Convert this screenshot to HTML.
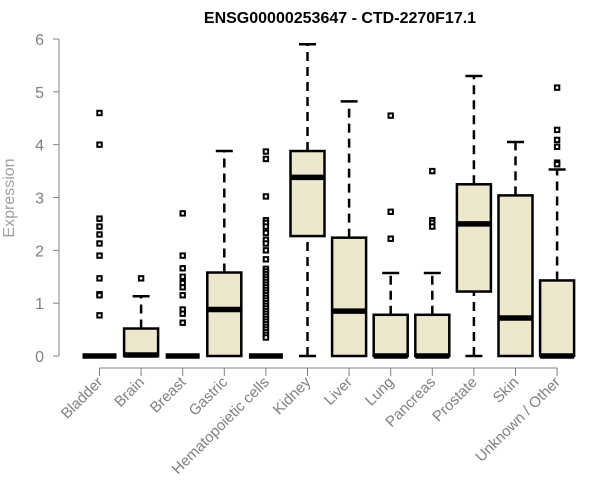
<!DOCTYPE html>
<html><head><meta charset="utf-8"><style>
body{margin:0;background:#fff}
svg{display:block;font-family:"Liberation Sans",Arial,sans-serif}
</style></head><body>
<svg id="chart" width="600" height="500" viewBox="0 0 600 500">
<text x="340" y="23" text-anchor="middle" font-weight="bold" font-size="16">ENSG00000253647 - CTD-2270F17.1</text>
<text transform="translate(14,198) rotate(-90)" text-anchor="middle" font-size="16" fill="#a0a0a0">Expression</text>
<g id="plot"></g>
</svg>
<script>
const categories=["Bladder","Brain","Breast","Gastric","Hematopoietic cells","Kidney","Liver","Lung","Pancreas","Prostate","Skin","Unknown / Other"];
const whiskLow=[0,0,0,0,0,0,0,0,0,0,0,0];
const q1=[0,0,0,0,0,2.27,0,0,0,1.22,0,0];
const medians=[0,0.02,0,0.88,0,3.38,0.85,0,0,2.5,0.72,0];
const q3=[0,0.52,0,1.58,0,3.88,2.24,0.78,0.78,3.25,3.04,1.43];
const whiskHigh=[0,1.13,0,3.88,0,5.9,4.82,1.57,1.57,5.3,4.05,3.53];
const outliers=[
[4.6,4.0,2.6,2.45,2.3,2.13,1.9,1.47,1.17,1.15,0.77],
[1.47],
[2.7,1.9,1.66,1.5,1.38,1.3,1.15,0.88,0.8,0.63],
[],
[3.87,3.73,3.02,2.57,2.52,2.45,2.33,2.2,2.13,2.0,1.83,1.65,1.6,1.55,1.5,1.45,1.4,1.35,1.3,1.25,1.2,1.15,1.1,1.05,1.0,0.95,0.9,0.85,0.8,0.75,0.7,0.65,0.6,0.55,0.5,0.45,0.4,0.35],
[],[],
[4.55,2.73,2.22],
[3.5,2.57,2.52,2.45],
[],[],
[5.08,4.28,4.09,3.96,3.66,3.63]
];
const yTicks=[0,1,2,3,4,5,6];
const NS="http://www.w3.org/2000/svg";
const g=document.getElementById("plot");
function y(v){return 356-v*52.83;}
function x(i){return 99.5+i*41.6;}
function mk(t,a,p){const e=document.createElementNS(NS,t);for(const k in a)e.setAttribute(k,a[k]);(p||g).appendChild(e);return e;}
let ax=mk("line",{x1:59,x2:59,y1:y(0),y2:y(6),stroke:"#808080"});


yTicks.forEach(t=>{
 let l=mk("line",{x1:53,x2:59,y1:y(t),y2:y(t),stroke:"#808080"});
 
 
 let tx=mk("text",{x:44,y:y(t)+6,"text-anchor":"end","font-size":"16",fill:"#808080"});
 tx.textContent=t;
 
 
});
let xa=mk("line",{x1:x(0),x2:x(11),y1:368,y2:368,stroke:"#808080"});


const hw=17;
categories.forEach((c,i)=>{
 const cx=x(i);
 let t=mk("line",{x1:cx,x2:cx,y1:368,y2:376,stroke:"#808080"});
 
 
 let lb=mk("text",{transform:`translate(${cx+4},${383}) rotate(-45)`,"text-anchor":"end","font-size":"15",fill:"#808080"});
 lb.textContent=c;
 
 
 const bg=mk("g",{});
 
 
 const dash={stroke:"#000","stroke-width":2.5,"stroke-dasharray":"9,6"};
 if(whiskHigh[i]>q3[i]){
  mk("line",Object.assign({x1:cx,x2:cx,y1:y(q3[i]),y2:y(whiskHigh[i])},dash),bg);
  mk("line",{x1:cx-8.5,x2:cx+8.5,y1:y(whiskHigh[i]),y2:y(whiskHigh[i]),stroke:"#000","stroke-width":2.5},bg);
 }
 if(q1[i]>whiskLow[i]){
  mk("line",Object.assign({x1:cx,x2:cx,y1:y(whiskLow[i]),y2:y(q1[i])},dash),bg);
  mk("line",{x1:cx-8.5,x2:cx+8.5,y1:y(whiskLow[i]),y2:y(whiskLow[i]),stroke:"#000","stroke-width":2.5},bg);
 }
 if(q3[i]>q1[i]) mk("rect",{x:cx-hw,y:y(q3[i]),width:2*hw,height:y(q1[i])-y(q3[i]),fill:"#ede7cd",stroke:"#000","stroke-width":2.5},bg);
 mk("line",{x1:cx-hw,x2:cx+hw,y1:y(medians[i]),y2:y(medians[i]),stroke:"#000","stroke-width":5.5},bg);
 outliers[i].forEach(v=>{
  let p=mk("rect",{x:cx-2.2,y:y(v)-2.2,width:4.4,height:4.4,fill:"#fff",stroke:"#000","stroke-width":2},bg);
  
  
 });
});
</script>
</body></html>
